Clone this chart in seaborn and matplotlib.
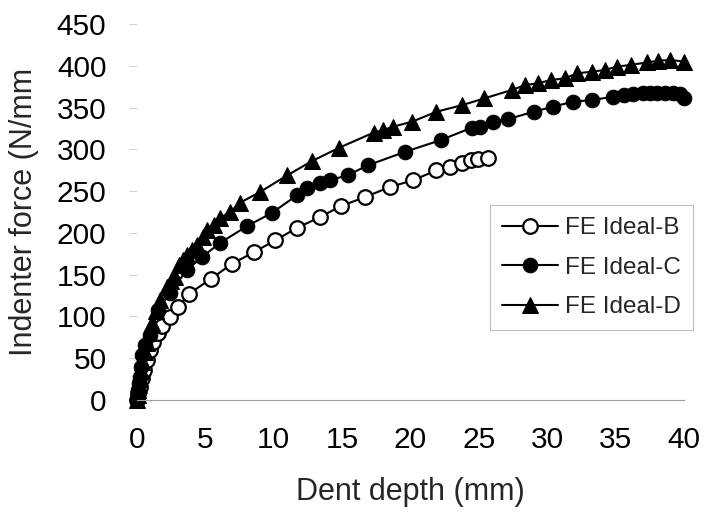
import matplotlib
matplotlib.use("Agg")
import matplotlib.pyplot as plt
import seaborn as sns
import numpy as np
import pandas as pd


OUTPUT = "out.png"

# series
depth_b = [0, 0.1, 0.2, 0.35, 0.5, 0.7, 0.95, 1.2, 1.5, 1.83, 2.41, 3.0, 3.8, 5.4,
           6.95, 8.56, 10.1, 11.7, 13.4, 14.9, 16.7, 18.5, 20.2, 21.9, 22.9, 23.8,
           24.4, 24.9, 25.7]
force_b = [0, 8, 16, 26, 36, 48, 60, 70, 80, 89, 99, 111, 127, 145,
           163, 177, 191, 206, 219, 232, 243, 255, 263, 275, 279, 284,
           287, 289, 290]

depth_c = [0, 0.05, 0.1, 0.15, 0.2, 0.28, 0.37, 0.6, 0.95, 1.54, 2.41, 3.66, 4.75,
           6.07, 8.04, 9.87, 11.7, 12.4, 13.4, 14.1, 15.4, 16.9, 19.6, 22.2, 24.5,
           25.1, 26.0, 27.1, 29.0, 30.4, 31.9, 33.3, 34.8, 35.6, 36.3, 37.0, 37.5,
           38.0, 38.6, 39.2, 39.7, 40.0]
force_c = [0, 5, 12, 20, 28, 40, 54, 66, 78, 108, 128, 156, 171,
           188, 208, 224, 245, 254, 260, 263, 269, 281, 297, 311, 326,
           327, 333, 336, 345, 351, 357, 359, 363, 365, 366, 367, 367,
           367, 367, 367, 366, 362]

depth_d = [0, 0.05, 0.1, 0.15, 0.2, 0.3, 0.4, 0.55, 0.7, 0.9, 1.1, 1.4, 1.68, 2.19,
           2.5, 2.78, 3.1, 3.4, 3.66, 4.0, 4.39, 4.8, 5.12, 5.6, 6.07, 6.8, 7.53,
           9.0, 11.0, 12.8, 14.8, 17.3, 18.0, 18.7, 20.1, 21.9, 23.8, 25.4, 27.4,
           28.4, 29.3, 30.3, 31.3, 32.2, 33.3, 34.2, 35.1, 36.1, 37.3, 38.1, 39.0,
           40.0]
force_d = [0, 6, 12, 18, 25, 35, 45, 57, 68, 80, 92, 106, 120, 135,
           142, 147, 162, 168, 174, 180, 185, 195, 203, 210, 218, 225, 236,
           249, 269, 286, 302, 320, 323, 327, 333, 345, 353, 361, 371,
           377, 379, 383, 385, 391, 393, 395, 399, 401, 404, 406, 407,
           405]

x_ticks = [0, 5, 10, 15, 20, 25, 30, 35, 40]
y_ticks = [0, 50, 100, 150, 200, 250, 300, 350, 400, 450]


def make_df(depth, force):
    return pd.DataFrame({"depth": depth, "force": force})


def main():
    sns.set_theme(style="white")
    plt.rcParams["font.family"] = ["Liberation Sans", "DejaVu Sans"]

    fig = plt.figure(figsize=(7.11, 5.14), dpi=100)
    ax = fig.add_axes([137 / 711, 1 - 400 / 514, 547 / 711, 376 / 514])

    common = dict(x="depth", y="force", sort=False, estimator=None,
                  color="black", linewidth=1.5, ax=ax, clip_on=False)

    sns.lineplot(data=make_df(depth_b, force_b), marker="o", markersize=10.5,
                 markerfacecolor="white", markeredgecolor="black",
                 markeredgewidth=1.6, label="FE Ideal-B", **common)
    sns.lineplot(data=make_df(depth_c, force_c), marker="o", markersize=10.5,
                 markerfacecolor="black", markeredgecolor="black",
                 label="FE Ideal-C", **common)
    sns.lineplot(data=make_df(depth_d, force_d), marker="^", markersize=11,
                 markerfacecolor="black", markeredgecolor="black",
                 label="FE Ideal-D", **common)

    ax.set_xlim(0, 40)
    ax.set_ylim(0, 450)
    ax.set_xticks(x_ticks)
    ax.set_yticks(y_ticks)

    for side in ["top", "right", "left"]:
        ax.spines[side].set_visible(False)
    ax.spines["bottom"].set_color("#a0a0a0")
    ax.spines["bottom"].set_linewidth(0.8)

    ax.tick_params(axis="x", direction="in", length=6, width=0.8,
                   color="#a0a0a0", pad=19, labelsize=21.5, labelcolor="black")
    ax.tick_params(axis="y", direction="out", length=6, width=0.6,
                   color="#c8c8c8", pad=16, labelsize=21.5, labelcolor="black",
                   left=True)

    ax.set_xlabel("Dent depth (mm)", fontsize=22)
    ax.set_ylabel("Indenter force (N/mm", fontsize=22)
    ax.xaxis.set_label_coords(0.5, -0.205)
    ax.yaxis.set_label_coords(-0.18, 0.5)

    leg = ax.legend(loc="upper left", bbox_to_anchor=(0.645, 0.519),
                    fontsize=17.5, frameon=True, fancybox=False,
                    handlelength=2.3, handletextpad=0.3, labelspacing=0.72,
                    borderpad=0.5, borderaxespad=0)
    leg.get_frame().set_edgecolor("#b0b0b0")
    leg.get_frame().set_linewidth(0.8)

    fig.savefig(OUTPUT, dpi=100)
    plt.close(fig)


if __name__ == "__main__":
    main()
